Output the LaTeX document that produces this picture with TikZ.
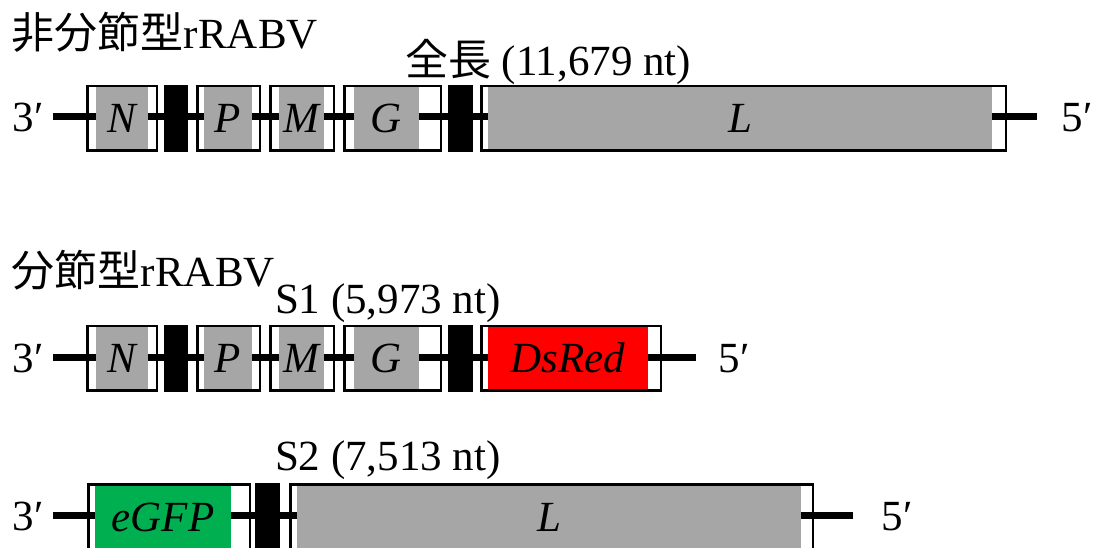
\documentclass[tikz,border=0pt]{standalone}
\usepackage{fontspec}
\setmainfont{Liberation Serif}
\newfontfamily\cjk{Noto Sans CJK JP}
\definecolor{genegray}{HTML}{A6A6A6}
\definecolor{dsred}{HTML}{FF0000}
\definecolor{egfp}{HTML}{00B050}
\begin{document}
\begin{tikzpicture}[x=1pt,y=-1pt,
  every node/.style={inner sep=0pt,outer sep=0pt},
  txt/.style={font=\fontsize{43}{50}\selectfont},
  gene/.style={txt,font=\fontsize{43}{50}\selectfont\itshape},
  backbone/.style={line width=7pt},
  genefill/.style={fill=genegray,minimum height=65pt},
  frame/.style={draw=black,line width=2.5pt,minimum height=64.5pt},
  spacer/.style={fill=black,minimum height=67pt,minimum width=24pt}]
\useasboundingbox (0,0) rectangle (1095,548);

% ---------- titles and lengths ----------
\node[txt,anchor=base west] (t1) at (12,49) {{\cjk 非分節型}rRABV};
\node[txt,anchor=base west] (len1) at (405,76) {{\cjk 全長} (11,679 nt)};
\node[txt,anchor=base west] (t2) at (12,286) {{\cjk 分節型}rRABV};
\node[txt,anchor=base west] (len2) at (275,313) {S1 (5,973 nt)};
\node[txt,anchor=base west] (len3) at (275,470) {S2 (7,513 nt)};

% ---------- full-length genome ----------
\coordinate (a1) at (53,117);
\coordinate (b1) at (1037,117);
\draw[backbone] (a1) -- (b1);
\node[txt,anchor=base] (p3a) at (28,132) {3′};
\node[txt,anchor=base] (p5a) at (1077,132) {5′};
\node[genefill,minimum width=52pt] (Nf1) at (122,118.5) {};
\node[genefill,minimum width=48pt] (Pf1) at (228,118.5) {};
\node[genefill,minimum width=45pt] (Mf1) at (301.5,118.5) {};
\node[genefill,minimum width=65pt] (Gf1) at (386.5,118.5) {};
\node[genefill,minimum width=504pt] (Lf1) at (740,118.5) {};
\node[frame,minimum width=69.5pt] (N1) at (122,118.5) {};
\node[frame,minimum width=62.5pt] (P1) at (228.5,118.5) {};
\node[frame,minimum width=63.5pt] (M1) at (302,118.5) {};
\node[frame,minimum width=96.5pt] (G1) at (392.5,118.5) {};
\node[frame,minimum width=524.5pt] (L1) at (743.5,118.5) {};
\node[spacer] (s11) at (176,118.5) {};
\node[spacer,minimum width=25pt] (s12) at (460.5,118.5) {};
\node[gene,anchor=base] at (Nf1.center |- 0,133) {N};
\node[gene,anchor=base] at (Pf1.center |- 0,133) {P};
\node[gene,anchor=base] at (Mf1.center |- 0,133) {M};
\node[gene,anchor=base] at (Gf1.center |- 0,133) {G};
\node[gene,anchor=base] at (Lf1.center |- 0,133) {L};

% ---------- segment S1 ----------
\coordinate (a2) at (53,357);
\coordinate (b2) at (696,357);
\draw[backbone] (a2) -- (b2);
\node[txt,anchor=base] (p3b) at (28,372) {3′};
\node[txt,anchor=base] (p5b) at (734,372) {5′};
\node[genefill,minimum width=52pt] (Nf2) at (122,358) {};
\node[genefill,minimum width=48pt] (Pf2) at (228,358) {};
\node[genefill,minimum width=45pt] (Mf2) at (301.5,358) {};
\node[genefill,minimum width=65pt] (Gf2) at (386.5,358) {};
\node[genefill,fill=dsred,minimum width=160pt] (Df2) at (568,358) {};
\node[frame,minimum width=69.5pt] (N2) at (122,358) {};
\node[frame,minimum width=62.5pt] (P2) at (228.5,358) {};
\node[frame,minimum width=63.5pt] (M2) at (302,358) {};
\node[frame,minimum width=96.5pt] (G2) at (392.5,358) {};
\node[frame,minimum width=179.5pt] (D2) at (571,358) {};
\node[spacer] (s21) at (176,358) {};
\node[spacer,minimum width=25pt] (s22) at (460.5,358) {};
\node[gene,anchor=base] at (Nf2.center |- 0,372) {N};
\node[gene,anchor=base] at (Pf2.center |- 0,372) {P};
\node[gene,anchor=base] at (Mf2.center |- 0,372) {M};
\node[gene,anchor=base] at (Gf2.center |- 0,372) {G};
\node[gene,anchor=base] at (Df2.center |- 0,372) {DsRed};

% ---------- segment S2 ----------
\coordinate (a3) at (53,515);
\coordinate (b3) at (853,515);
\draw[backbone] (a3) -- (b3);
\node[txt,anchor=base] (p3c) at (28,530) {3′};
\node[txt,anchor=base] (p5c) at (897,530) {5′};
\node[genefill,fill=egfp,minimum width=136pt] (Ef3) at (163,516.5) {};
\node[genefill,minimum width=504pt] (Lf3) at (549,516.5) {};
\node[frame,minimum width=161.5pt] (E3) at (169,516.5) {};
\node[frame,minimum width=522.5pt] (L3) at (551.5,516.5) {};
\node[spacer,minimum width=25pt] (s31) at (267.5,516.5) {};
\node[gene,anchor=base] at (Ef3.center |- 0,531) {eGFP};
\node[gene,anchor=base] at (Lf3.center |- 0,531) {L};
\end{tikzpicture}
\end{document}
